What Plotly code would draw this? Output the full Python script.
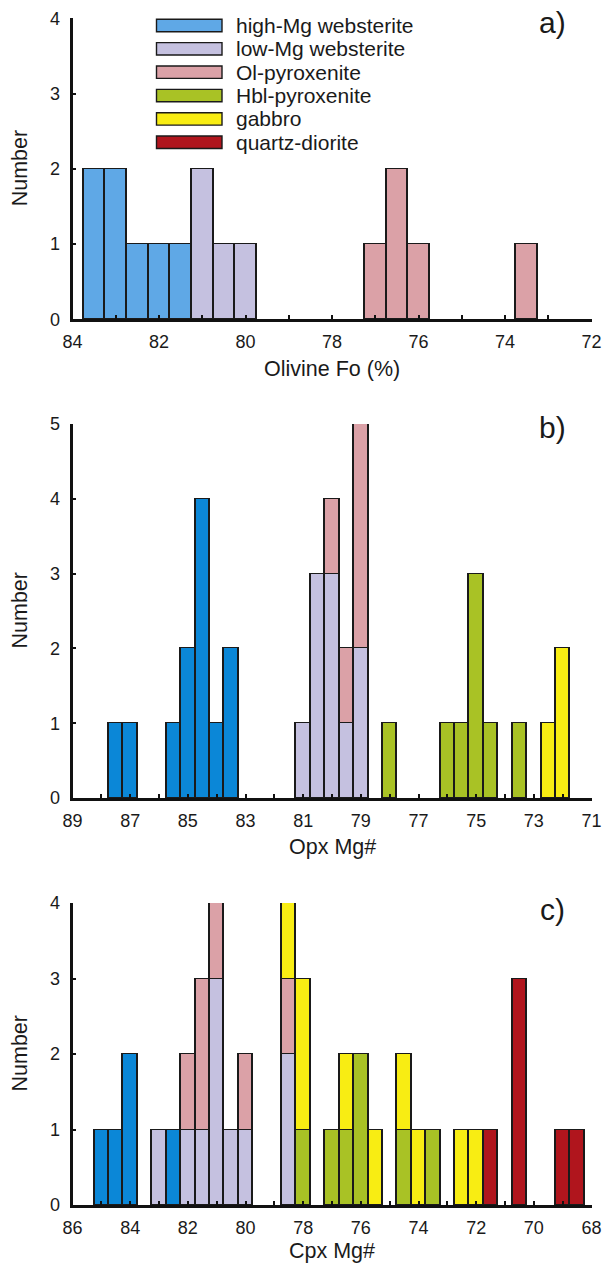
import plotly.graph_objects as go

# ---------------- data ----------------
# Panel a: Olivine Fo (%)
A_HMG_X = [83.5, 83.0, 82.5, 82.0, 81.5]
A_HMG_N = [2, 2, 1, 1, 1]
A_LMG_X = [81.0, 80.5, 80.0]
A_LMG_N = [2, 1, 1]
A_OLP_X = [77.0, 76.5, 76.0, 73.5]
A_OLP_N = [1, 2, 1, 1]

# Panel b: Opx Mg#
B_HMG_X = [87.5, 87.0, 85.5, 85.0, 84.5, 84.0, 83.5]
B_HMG_N = [1, 1, 1, 2, 4, 1, 2]
B_LMG_X = [81.0, 80.5, 80.0, 79.5, 79.0]
B_LMG_N = [1, 3, 3, 1, 2]
B_OLP_X = [80.0, 79.5, 79.0]
B_OLP_N = [1, 1, 3]
B_HBL_X = [78.0, 76.0, 75.5, 75.0, 74.5, 73.5]
B_HBL_N = [1, 1, 1, 3, 1, 1]
B_GAB_X = [72.5, 72.0]
B_GAB_N = [1, 2]

# Panel c: Cpx Mg#
C_HMG_X = [85.0, 84.5, 84.0, 82.5]
C_HMG_N = [1, 1, 2, 1]
C_LMG_X = [83.0, 82.0, 81.5, 81.0, 80.5, 80.0, 78.5]
C_LMG_N = [1, 1, 1, 3, 1, 1, 2]
C_OLP_X = [82.0, 81.5, 81.0, 80.0, 78.5]
C_OLP_N = [1, 2, 1, 1, 1]
C_HBL_X = [78.0, 77.0, 76.5, 76.0, 74.5, 73.5]
C_HBL_N = [1, 1, 1, 2, 1, 1]
C_GAB_X = [78.5, 78.0, 76.5, 75.5, 74.5, 74.0, 72.5, 72.0]
C_GAB_N = [1, 2, 1, 1, 1, 1, 1, 1]
C_QD_X = [71.5, 70.5, 69.0, 68.5]
C_QD_N = [1, 3, 1, 1]

LEGEND_NAMES = ["high-Mg websterite", "low-Mg websterite", "Ol-pyroxenite",
                "Hbl-pyroxenite", "gabbro", "quartz-diorite"]
X_TITLES = ["Olivine Fo (%)", "Opx Mg#", "Cpx Mg#"]
PANEL_TAGS = ["a)", "b)", "c)"]
X_RANGES = [(84, 72), (89, 71), (86, 68)]
X_LABELED = [[84, 82, 80, 78, 76, 74, 72],
             [89, 87, 85, 83, 81, 79, 77, 75, 73, 71],
             [86, 84, 82, 80, 78, 76, 74, 72, 70, 68]]
Y_MAX = [4, 5, 4]

# ---------------- style ----------------
W, H = 603, 1265
C_BLUE_L = "#5fa8e6"
C_BLUE = "#0b87d7"
C_LAV = "#c5c1e0"
C_PINK = "#dba1a7"
C_GREEN = "#a9c225"
C_YEL = "#f8ed13"
C_RED = "#b0151d"
LEG_COLORS = [C_BLUE_L, C_LAV, C_PINK, C_GREEN, C_YEL, C_RED]
FONT = "Liberation Sans, Arial, Helvetica, sans-serif"
TXT = "#1a1a1a"

X_PX = (72.5, 591.5)
Y_PX = [(18.3, 319.3), (424.0, 798.0), (903.0, 1205.0)]


def px(x):
    return x / W


def py(y):
    return 1 - y / H


fig = go.Figure()


def add(xs, ns, color, k):
    fig.add_trace(go.Bar(
        x=xs, y=ns, width=0.5, cliponaxis=False,
        marker=dict(color=color, line=dict(color=TXT, width=1.4)),
        xaxis="x" if k == 0 else f"x{k+1}", yaxis="y" if k == 0 else f"y{k+1}",
        showlegend=False, hoverinfo="skip"))


add(A_HMG_X, A_HMG_N, C_BLUE_L, 0)
add(A_LMG_X, A_LMG_N, C_LAV, 0)
add(A_OLP_X, A_OLP_N, C_PINK, 0)

add(B_HMG_X, B_HMG_N, C_BLUE, 1)
add(B_LMG_X, B_LMG_N, C_LAV, 1)
add(B_OLP_X, B_OLP_N, C_PINK, 1)
add(B_HBL_X, B_HBL_N, C_GREEN, 1)
add(B_GAB_X, B_GAB_N, C_YEL, 1)

add(C_HMG_X, C_HMG_N, C_BLUE, 2)
add(C_LMG_X, C_LMG_N, C_LAV, 2)
add(C_OLP_X, C_OLP_N, C_PINK, 2)
add(C_HBL_X, C_HBL_N, C_GREEN, 2)
add(C_GAB_X, C_GAB_N, C_YEL, 2)
add(C_QD_X, C_QD_N, C_RED, 2)

layout = dict(
    width=W, height=H, margin=dict(l=0, r=0, t=0, b=0),
    paper_bgcolor="white", plot_bgcolor="white",
    barmode="stack", bargap=0, showlegend=False,
    font=dict(family=FONT, size=18, color=TXT),
)

annotations = []
shapes = []
for k in range(3):
    xn = "xaxis" if k == 0 else f"xaxis{k+1}"
    yn = "yaxis" if k == 0 else f"yaxis{k+1}"
    lo, hi = X_RANGES[k]
    tv = list(range(min(lo, hi), max(lo, hi) + 1))
    tt = [str(v) if v in X_LABELED[k] else "" for v in tv]
    y0, y1 = Y_PX[k]
    layout[xn] = dict(
        domain=[px(X_PX[0]), px(X_PX[1])], range=[lo, hi],
        anchor="y" if k == 0 else f"y{k+1}",
        showline=True, linecolor="#111", linewidth=2.8, mirror=False,
        ticks="inside", ticklen=4, tickwidth=2, tickcolor="#111",
        tickvals=tv, ticktext=tt, showgrid=False, zeroline=False,
        ticklabelstandoff=4, automargin=False, layer="above traces",
        tickfont=dict(size=18, family=FONT, color=TXT))
    layout[yn] = dict(
        domain=[py(y1), py(y0)], range=[0, Y_MAX[k]],
        anchor="x" if k == 0 else f"x{k+1}",
        showline=True, linecolor="#111", linewidth=2.8,
        ticks="inside", ticklen=4, tickwidth=2, tickcolor="#111",
        tickvals=list(range(0, Y_MAX[k] + 1)), showgrid=False, zeroline=False,
        ticklabelstandoff=6, automargin=False,
        tickfont=dict(size=18, family=FONT, color=TXT))
    annotations.append(dict(
        text="Number", x=px(19.5), y=py((y0 + y1) / 2), xref="paper", yref="paper",
        textangle=-90, showarrow=False, font=dict(size=21.5, family=FONT, color=TXT),
        xanchor="center", yanchor="middle"))
    annotations.append(dict(
        text=PANEL_TAGS[k], x=px(552), y=py([22, 427, 910][k]), xref="paper", yref="paper",
        showarrow=False, font=dict(size=30, family=FONT, color=TXT),
        xanchor="center", yanchor="middle"))
    annotations.append(dict(
        text=X_TITLES[k], x=px(332), y=py([369, 847, 1251][k]), xref="paper", yref="paper",
        showarrow=False, font=dict(size=21.5, family=FONT, color=TXT),
        xanchor="center", yanchor="middle"))

# legend (figure-wide, drawn in panel a)
for i, (name, col) in enumerate(zip(LEGEND_NAMES, LEG_COLORS)):
    yc = 25.5 + i * 23.35
    shapes.append(dict(type="rect", xref="paper", yref="paper",
                       x0=px(156.5), x1=px(222), y0=py(yc + 6.2), y1=py(yc - 6.2),
                       fillcolor=col, line=dict(color=TXT, width=1.4)))
    annotations.append(dict(text=name, x=px(234), y=py(yc), xref="paper", yref="paper",
                            showarrow=False, xanchor="left", yanchor="middle",
                            font=dict(size=21, family=FONT, color=TXT)))

layout["annotations"] = annotations
layout["shapes"] = shapes
fig.update_layout(**layout)
fig.write_html("out.html", config={"displayModeBar": False},
               post_script="document.body.style.margin='0';document.body.style.overflow='hidden';")
